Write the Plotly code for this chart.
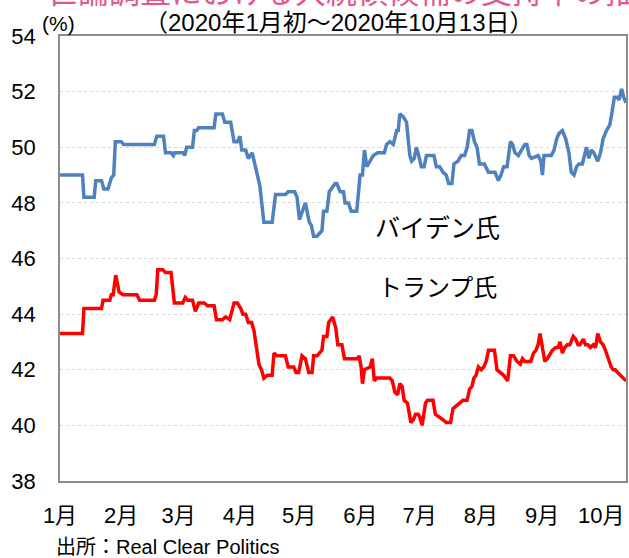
import plotly.graph_objects as go

# Day offsets from 2020-01-01 and poll averages (%)
biden_days = [0, 11.4, 12.1, 17.3, 18.1, 21, 22.2, 24.3, 26, 27.2, 28, 31, 32.2, 47.8, 49, 52.4,
              53.4, 56.2, 57.4, 58, 62.4, 63.1, 64.1, 67.1, 68, 69.2, 70.2, 78, 78.9, 82.2,
              83.4, 86.4, 88.1, 89.8, 91.1, 92, 94, 95.3, 97.3, 99.9, 101.2, 103.2, 107.4,
              109.1, 114.1, 115.5, 118.8, 120, 121.2, 124.2, 126.2, 127.2, 128.4, 130.1,
              132.6, 133.4, 135.1, 136.3, 139.3, 140.1, 141.8, 143.5, 144.3, 146, 147.4,
              150.2, 151.9, 153.1, 154.1, 155.3, 157, 158.6, 160.8, 164.2, 165.3, 167, 168.7,
              170.4, 171.2, 172.0, 173.7, 175.4, 177.1, 178, 179.3, 180.4, 181.6, 182.9,
              184.3, 185.5, 189.3, 190.5, 192.2, 193.9, 195.5, 196.7, 198.4, 199.4, 201.4,
              203.1, 204.8, 206.1, 207.3, 208.5, 209.8, 211.1, 212.3, 214.8, 216.9, 220.2,
              221.9, 223.2, 224.6, 226.3, 228, 229.1, 230.3, 232, 233.6, 235.3, 236.3, 237.5,
              238.7, 242, 243.4, 244.2, 245.0, 248.7, 250.1, 251.4, 252.6, 254.3, 256, 257.6,
              258.8, 260.2, 261.5, 262.7, 264.4, 265.5, 266.5, 267.7, 268.9, 270.2, 271.6,
              272.2, 273.6, 274.9, 276.6, 278.3, 279.5, 280.6, 282, 283, 284.3, 285.3, 286.5]
biden_vals = [49.0, 49.0, 48.2, 48.2, 48.8, 48.8, 48.5, 48.5, 48.9, 49.0, 50.2, 50.2, 50.1, 50.1,
              50.4, 50.4, 49.8, 49.8, 49.7, 49.8, 49.8, 49.7, 50.0, 50.0, 50.6, 50.6, 50.7,
              50.7, 51.2, 51.2, 50.9, 50.9, 50.2, 50.2, 50.4, 49.9, 49.9, 49.6, 49.8, 48.9,
              48.6, 47.3, 47.3, 48.3, 48.3, 48.4, 48.4, 48.2, 47.4, 48.0, 47.3, 47.2, 46.8,
              46.8, 47.0, 47.7, 47.7, 48.4, 48.7, 48.7, 48.4, 48.4, 48.0, 48.0, 47.7, 47.7,
              49.0, 49.0, 49.9, 49.3, 49.5, 49.7, 49.8, 49.8, 50.1, 50.2, 50.1, 50.6, 50.6,
              51.2, 51.1, 50.9, 49.7, 49.5, 49.6, 50.0, 49.7, 49.3, 49.3, 49.7, 49.7, 49.3,
              49.3, 49.1, 49.0, 48.7, 48.7, 49.4, 49.5, 49.7, 49.7, 50.0, 50.6, 50.6, 50.2,
              50.0, 49.4, 49.4, 49.1, 49.1, 48.8, 49.0, 49.3, 49.3, 50.2, 50.1, 49.8, 49.7,
              49.9, 50.1, 50.1, 49.7, 49.6, 49.7, 49.5, 49.0, 49.7, 49.7, 49.9, 50.3, 50.5,
              50.6, 50.3, 49.8, 49.1, 49.0, 49.3, 49.4, 49.4, 49.7, 50.0, 49.6, 49.9, 49.8,
              49.6, 49.5, 49.8, 50.3, 50.6, 50.8, 51.3, 51.8, 51.8, 51.7, 52.1, 51.8, 51.6]

trump_days = [0, 11.4, 12.1, 21, 21.8, 25.2, 26, 26.9, 28.2, 29.9, 31.9, 38.9, 40.3, 47.8, 48.7,
              49.5, 52, 53.4, 56.2, 57.9, 62.1, 63.4, 64.6, 67.1, 68.5, 70.2, 73, 74.7, 78,
              79.2, 82.2, 83.9, 85.9, 88.1, 89.8, 91.5, 92.6, 94, 95.3, 97, 98.2, 100.7, 102,
              103.2, 104.9, 107.4, 108.3, 109.9, 114.1, 115.5, 118.3, 119.5, 120.8, 122.5,
              124.2, 125.9, 127.6, 128.4, 130.1, 131.3, 132.6, 133.4, 135.1, 136, 138, 139.6,
              140.6, 142.7, 144, 150.7, 151.4, 152.4, 153.1, 154.1, 157, 158.1, 159.1, 160.3,
              167, 168.2, 169.5, 170.9, 172.0, 173.2, 174.2, 175.9, 177.6, 178.8, 180, 181.3,
              182.1, 183.3, 185, 186, 188.8, 190, 192.2, 193.9, 195.5, 197.7, 198.9, 200.6,
              202.3, 204, 206.1, 207.3, 208.5, 209.5, 210.6, 211.8, 213.2, 214.5, 215.7, 216.9,
              219.9, 221.2, 222.9, 224.6, 226.6, 228, 229.6, 231.3, 233, 234.1, 235.3, 238.3,
              239.7, 240.9, 242, 243.0, 244.2, 245.4, 246.7, 248.1, 249.2, 250.9, 252.1, 253.1,
              254.3, 255.5, 256.8, 258.1, 259.8, 261, 262.2, 263.2, 264.9, 266, 267.2, 268.5,
              269.9, 271.1, 272.2, 273.6, 274.9, 276.1, 277.8, 279, 280, 281.1, 282.3, 283.6,
              285, 286.5]
trump_vals = [43.3, 43.3, 44.2, 44.2, 44.5, 44.5, 44.7, 44.7, 45.4, 44.8, 44.7, 44.7, 44.5, 44.5,
              44.7, 45.6, 45.6, 45.5, 45.5, 44.4, 44.4, 44.6, 44.5, 44.5, 44.1, 44.4, 44.4,
              44.3, 44.3, 43.8, 43.8, 43.9, 43.8, 44.4, 44.4, 44.2, 44.0, 44.0, 43.7, 43.7,
              43.4, 42.2, 42.0, 41.7, 41.8, 41.8, 42.6, 42.5, 42.5, 42.1, 42.1, 41.9, 41.9,
              42.5, 42.4, 41.9, 41.9, 42.5, 42.5, 42.6, 42.7, 43.2, 43.2, 43.7, 43.9, 43.5,
              42.9, 42.9, 42.4, 42.4, 42.5, 42.1, 41.5, 42.0, 42.1, 42.4, 41.6, 41.7, 41.7,
              41.6, 41.2, 41.1, 41.5, 41.4, 40.9, 40.8, 40.1, 40.2, 40.4, 40.4, 40.3, 40.0,
              40.8, 40.9, 40.9, 40.4, 40.3, 40.2, 40.1, 40.1, 40.6, 40.7, 40.8, 40.9, 40.9,
              41.3, 41.4, 41.7, 41.8, 42.1, 42.0, 42.1, 42.3, 42.7, 42.7, 42.0, 41.9, 41.8,
              41.6, 42.5, 42.5, 42.3, 42.2, 42.4, 42.3, 42.3, 42.6, 42.7, 42.9, 43.3, 42.8,
              42.3, 42.4, 42.6, 42.7, 42.8, 42.8, 43.0, 42.6, 42.8, 42.9, 42.9, 43.2, 43.1,
              42.9, 42.9, 43.1, 42.9, 42.9, 42.8, 42.9, 42.8, 43.3, 43.0, 42.9, 42.7, 42.3,
              42.1, 42.0, 42.0, 41.9, 41.8, 41.7, 41.6]

month_days = [0, 31, 60, 91, 121, 152, 182, 213, 244, 274]
month_labels = ["1月", "2月", "3月", "4月", "5月", "6月", "7月", "8月", "9月", "10月"]
y_ticks = [38, 40, 42, 44, 46, 48, 50, 52, 54]

FONT = "Liberation Sans, Arial, Noto Sans CJK JP, sans-serif"

fig = go.Figure()
fig.add_trace(go.Scatter(x=biden_days, y=biden_vals, mode="lines",
                         line=dict(color="#4f81bd", width=3.5), name="バイデン氏",
                         hoverinfo="skip"))
fig.add_trace(go.Scatter(x=trump_days, y=trump_vals, mode="lines",
                         line=dict(color="#ff0000", width=3.5), name="トランプ氏",
                         hoverinfo="skip"))

PW = 568.0
PH = 445.0

fig.update_layout(
    width=629, height=558,
    margin=dict(l=60, r=1, t=36, b=77),
    paper_bgcolor="white", plot_bgcolor="white",
    showlegend=False,
    font=dict(family=FONT, color="black"),
    xaxis=dict(range=[0, 286.5], tickvals=month_days, ticktext=month_labels,
               showgrid=False, zeroline=False, showline=True, mirror=True,
               linecolor="#8c8c8c", linewidth=1.5, ticks="",
               tickfont=dict(size=22, family=FONT), ticklabelstandoff=14),
    yaxis=dict(range=[38, 54], tickvals=y_ticks, showgrid=True,
               gridcolor="#d9d9d9", griddash="dot", gridwidth=1,
               zeroline=False, showline=True, mirror=True,
               linecolor="#8c8c8c", linewidth=1.5, ticks="",
               tickfont=dict(size=22, family=FONT), ticklabelstandoff=18),
    annotations=[
        dict(text="世論調査における大統領候補の支持率の推移", xref="paper", yref="paper",
             x=0.525, y=1 + 44 / PH, xanchor="center", yanchor="middle", showarrow=False,
             font=dict(size=31, color="#e2588e", family=FONT)),
        dict(text="（2020年1月初～2020年10月13日）", xref="paper", yref="paper",
             x=(340 - 60) / PW, y=1 + 14 / PH, xanchor="center", yanchor="middle",
             showarrow=False, font=dict(size=24, family=FONT)),
        dict(text="(%)", xref="paper", yref="paper", x=-20 / PW, y=1 + 13 / PH,
             xanchor="left", yanchor="middle", showarrow=False,
             font=dict(size=21, family=FONT)),
        dict(text="バイデン氏", x=191.3, y=47.1, xref="x", yref="y",
             xanchor="center", yanchor="middle", showarrow=False,
             font=dict(size=25, family=FONT)),
        dict(text="トランプ氏", x=191.3, y=44.97, xref="x", yref="y",
             xanchor="center", yanchor="middle", showarrow=False,
             font=dict(size=24, family=FONT)),
        dict(text="出所：Real Clear Politics", xref="paper", yref="paper",
             x=-6 / PW, y=-(547 - 481) / PH, xanchor="left", yanchor="middle",
             showarrow=False, font=dict(size=20, family=FONT)),
    ],
)

fig.write_html("out.html", config={"displayModeBar": False},
               post_script="document.body.style.margin='0';")
